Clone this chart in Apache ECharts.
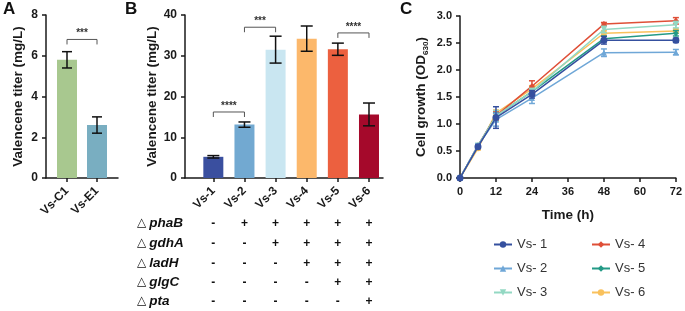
<!DOCTYPE html>
<html>
<head>
<meta charset="utf-8">
<script src="https://cdn.jsdelivr.net/npm/echarts@6/dist/echarts.min.js"></script>
<style>
  html, body { margin: 0; padding: 0; background: #fff; }
  #main { width: 685px; height: 311px; }
</style>
</head>
<body>
<div id="main"></div>
<script>
// panel A
var aCats = ['Vs-C1', 'Vs-E1']
var aVals = [5.8, 2.6]
var aErr = [0.4, 0.4]
var aColors = ['#a8c88f', '#79aec1']
var aSig = [[0, 1, 6.8, '***']]

// panel B
var bCats = ['Vs-1', 'Vs-2', 'Vs-3', 'Vs-4', 'Vs-5', 'Vs-6']
var bVals = [5.2, 13.1, 31.5, 34.2, 31.6, 15.6]
var bErr = [0.3, 0.65, 3.3, 3.1, 1.5, 2.8]
var bColors = ['#3a4f9f', '#72a9d1', '#c9e6f1', '#fcb86b', '#ec603f', '#a5092b']
var bSig = [[0, 1, 16.2, '****'], [1, 2, 37, '***'], [4, 5, 35.6, '****']]
var geneRows = ['phaB', 'gdhA', 'ladH', 'glgC', 'pta']
var geneSigns = [
  ['-', '+', '+', '+', '+', '+'],
  ['-', '-', '+', '+', '+', '+'],
  ['-', '-', '-', '+', '+', '+'],
  ['-', '-', '-', '-', '+', '+'],
  ['-', '-', '-', '-', '-', '+']
]

// panel C
var timeH = [0, 6, 12, 24, 48, 72]
var cNames = ['Vs- 1', 'Vs- 2', 'Vs- 3', 'Vs- 4', 'Vs- 5', 'Vs- 6']
var cVals = [
  [0, 0.58, 1.12, 1.55, 2.55, 2.55],
  [0, 0.60, 1.08, 1.48, 2.32, 2.33],
  [0, 0.60, 1.15, 1.60, 2.75, 2.84],
  [0, 0.60, 1.15, 1.70, 2.85, 2.91],
  [0, 0.60, 1.15, 1.60, 2.58, 2.68],
  [0, 0.55, 1.20, 1.65, 2.68, 2.72]
]
var cErr = [
  [0, 0.03, 0.20, 0.07, 0.07, 0.04],
  [0, 0.03, 0.12, 0.10, 0.07, 0.05],
  [0, 0.03, 0.10, 0.06, 0.06, 0.06],
  [0, 0.03, 0.08, 0.10, 0.03, 0.06],
  [0, 0.03, 0.06, 0.06, 0.05, 0.05],
  [0, 0.03, 0.06, 0.06, 0.05, 0.04]
]
var cColors = ['#35509f', '#6fa7d7', '#93d8c3', '#df4f37', '#239a86', '#f9c15c']
var cSymbols = ['circle', 'triangle', 'path://M0,0L10,0L5,9Z', 'diamond', 'diamond', 'circle']

var FONT = 'Liberation Sans'
var rowsY = [224, 244, 264, 283, 302]
var chart = echarts.init(document.getElementById('main'))

function axisBase() {
  return {
    axisLine: { show: true, onZero: false, lineStyle: { color: '#1a1a1a', width: 1.5 } },
    axisTick: { show: true, length: 4, lineStyle: { color: '#1a1a1a', width: 1.5 } },
    axisLabel: { color: '#1a1a1a', fontFamily: FONT, fontWeight: 'bold', fontSize: 12 },
    splitLine: { show: false },
    nameTextStyle: { color: '#1a1a1a', fontFamily: FONT, fontWeight: 'bold', fontSize: 13.5 }
  }
}

function catAxis(gridIndex, min, max, cats) {
  var idx = cats.map(function (c, i) { return i })
  var ax = axisBase()
  return Object.assign(ax, {
    type: 'value', gridIndex: gridIndex, min: min, max: max,
    axisTick: Object.assign(ax.axisTick, { customValues: idx }),
    axisLabel: Object.assign(ax.axisLabel, {
      customValues: idx, rotate: 45, margin: 11,
      formatter: function (v) { return cats[Math.round(v)] }
    })
  })
}

function errRender(capHalf, lineColor) {
  return function (params, api) {
    var x = api.value(0), lo = api.value(1), hi = api.value(2)
    var p1 = api.coord([x, lo]), p2 = api.coord([x, hi])
    var col = lineColor || api.visual('color')
    var st = { stroke: col, lineWidth: 1.5 }
    return {
      type: 'group',
      children: [
        { type: 'line', shape: { x1: p1[0], y1: p1[1], x2: p2[0], y2: p2[1] }, style: st },
        { type: 'line', shape: { x1: p1[0] - capHalf, y1: p1[1], x2: p1[0] + capHalf, y2: p1[1] }, style: st },
        { type: 'line', shape: { x1: p2[0] - capHalf, y1: p2[1], x2: p2[0] + capHalf, y2: p2[1] }, style: st }
      ]
    }
  }
}

function sigRender(list) {
  return function (params, api) {
    var d = list[params.dataIndex]
    var a = api.coord([d[0], d[2]])
    var b = api.coord([d[1], d[2]])
    var st = { stroke: '#555', lineWidth: 1, fill: 'none' }
    return {
      type: 'group',
      children: [
        { type: 'polyline', shape: { points: [[a[0], a[1] + 5], [a[0], a[1]], [b[0], b[1]], [b[0], b[1] + 5]] }, style: st },
        { type: 'text', x: (a[0] + b[0]) / 2, y: a[1] - 1,
          style: { text: d[3], fill: '#333', font: 'bold 10px ' + FONT, align: 'center', verticalAlign: 'bottom' } }
      ]
    }
  }
}

function tableRender(params, api) {
  var i = params.dataIndex
  var x = api.coord([i, 0])[0]
  var kids = geneSigns.map(function (row, r) {
    return { type: 'text', x: x, y: rowsY[r],
      style: { text: row[i], fill: '#111', font: 'bold 12px ' + FONT, align: 'center', verticalAlign: 'middle' } }
  })
  return { type: 'group', children: kids }
}

var series = []
// A bars
series.push({
  type: 'bar', xAxisIndex: 0, yAxisIndex: 0, barWidth: 20,
  data: aVals.map(function (v, i) { return { value: [i, v], itemStyle: { color: aColors[i] } } })
})
series.push({
  type: 'custom', xAxisIndex: 0, yAxisIndex: 0, z: 5,
  renderItem: errRender(5, '#111'),
  data: aVals.map(function (v, i) { return [i, v - aErr[i], v + aErr[i]] })
})
series.push({ type: 'custom', xAxisIndex: 0, yAxisIndex: 0, clip: false, renderItem: sigRender(aSig),
  data: aSig.map(function (d) { return [d[0], d[1], d[2]] }) })
// B bars
series.push({
  type: 'bar', xAxisIndex: 1, yAxisIndex: 1, barWidth: 20,
  data: bVals.map(function (v, i) { return { value: [i, v], itemStyle: { color: bColors[i] } } })
})
series.push({
  type: 'custom', xAxisIndex: 1, yAxisIndex: 1, z: 5,
  renderItem: errRender(6, '#111'),
  data: bVals.map(function (v, i) { return [i, v - bErr[i], v + bErr[i]] })
})
series.push({ type: 'custom', xAxisIndex: 1, yAxisIndex: 1, clip: false, renderItem: sigRender(bSig),
  data: bSig.map(function (d) { return [d[0], d[1], d[2]] }) })
series.push({
  type: 'custom', xAxisIndex: 1, yAxisIndex: 1, clip: false, renderItem: tableRender,
  data: bCats.map(function (c, i) { return [i, 0] })
})
// C lines, drawn so Vs-1 ends up on top
for (var k = cNames.length - 1; k >= 0; k--) {
  series.push({
    name: cNames[k], type: 'line', xAxisIndex: 2, yAxisIndex: 2,
    data: timeH.map(function (t, j) { return [t, cVals[k][j]] }),
    symbol: cSymbols[k], symbolSize: k === 0 ? 7 : 6,
    itemStyle: { color: cColors[k] }, lineStyle: { color: cColors[k], width: 1.5 },
    z: 10 - k
  })
  series.push({
    type: 'custom', xAxisIndex: 2, yAxisIndex: 2, z: 10 - k,
    itemStyle: { color: cColors[k] },
    renderItem: errRender(3),
    data: timeH.map(function (t, j) { return [t, cVals[k][j] - cErr[k][j], cVals[k][j] + cErr[k][j]] })
  })
}

var yA = axisBase(), yB = axisBase(), yC = axisBase(), xC = axisBase()

var rowLabels = geneRows.map(function (g, r) {
  return {
    type: 'text', left: 137, top: rowsY[r] - 8,
    style: { text: '{t|△}{g|' + g + '}', rich: {
      t: { fontFamily: 'DejaVu Sans', fontSize: 12, fill: '#111' },
      g: { fontFamily: FONT, fontSize: 13.5, fontWeight: 'bold', fontStyle: 'italic', fill: '#111', padding: [0, 0, 0, 3] }
    } }
  }
})

var legendText = { fontFamily: FONT, fontSize: 13, color: '#333' }

chart.setOption({
  animation: false,
  grid: [
    { left: 46, top: 15, width: 72, height: 163 },
    { left: 185, top: 15, width: 198, height: 163 },
    { left: 460, top: 16, width: 217, height: 162 }
  ],
  xAxis: [
    catAxis(0, -0.7, 1.7, aCats),
    catAxis(1, -0.91, 5.45, bCats),
    Object.assign(xC, {
      type: 'value', gridIndex: 2, min: 0, max: 72, interval: 12,
      name: 'Time (h)', nameLocation: 'middle', nameGap: 30,
      axisLabel: Object.assign(xC.axisLabel, { fontSize: 11 })
    })
  ],
  yAxis: [
    Object.assign(yA, { type: 'value', gridIndex: 0, min: 0, max: 8, interval: 2,
      name: 'Valencene titer (mg/L)', nameLocation: 'middle', nameGap: 21 }),
    Object.assign(yB, { type: 'value', gridIndex: 1, min: 0, max: 40, interval: 10,
      name: 'Valencene titer (mg/L)', nameLocation: 'middle', nameGap: 26 }),
    Object.assign(yC, { type: 'value', gridIndex: 2, min: 0, max: 3, interval: 0.5,
      name: '{a|Cell growth (OD}{s|630}{a|)}', nameLocation: 'middle', nameGap: 31,
      nameTextStyle: Object.assign(yC.nameTextStyle, { rich: {
        a: { fontFamily: FONT, fontWeight: 'bold', fontSize: 13.5, color: '#1a1a1a', lineHeight: 16 },
        s: { fontFamily: FONT, fontWeight: 'bold', fontSize: 8, color: '#1a1a1a', lineHeight: 8, padding: [10, 0, 0, 0] }
      } }),
      axisLabel: Object.assign(yC.axisLabel, { fontSize: 11, formatter: function (v) { return v.toFixed(1) } }) })
  ],
  legend: [
    { data: cNames.slice(0, 3), orient: 'vertical', left: 488, top: 233, itemGap: 11,
      itemWidth: 18, itemHeight: 8, textStyle: legendText },
    { data: cNames.slice(3), orient: 'vertical', left: 586, top: 233, itemGap: 11,
      itemWidth: 18, itemHeight: 8, textStyle: legendText }
  ],
  graphic: [
    { type: 'text', left: 3, top: 1, style: { text: 'A', font: 'bold 17px ' + FONT, fill: '#111' } },
    { type: 'text', left: 125, top: 1, style: { text: 'B', font: 'bold 17px ' + FONT, fill: '#111' } },
    { type: 'text', left: 400, top: 1, style: { text: 'C', font: 'bold 17px ' + FONT, fill: '#111' } }
  ].concat(rowLabels),
  series: series
})
</script>
</body>
</html>
